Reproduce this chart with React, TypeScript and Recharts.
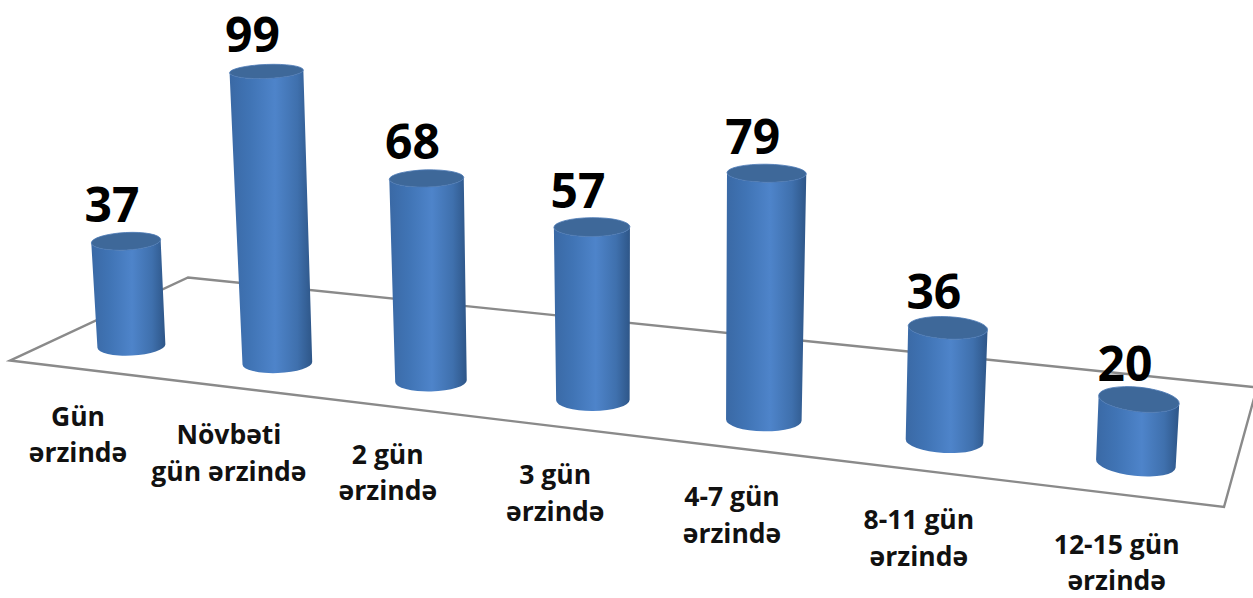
import React from "react";
import { BarChart, Bar, XAxis, YAxis, LabelList, Customized } from "recharts";

const categories = [
  ["Gün", "ərzində"],
  ["Növbəti", "gün ərzində"],
  ["2 gün", "ərzində"],
  ["3 gün", "ərzində"],
  ["4-7 gün", "ərzində"],
  ["8-11 gün", "ərzində"],
  ["12-15 gün", "ərzində"],
];
const values = [37, 99, 68, 57, 79, 36, 20];

const rows = categories.map((lines, i) => ({ name: lines.join(" "), value: values[i] }));

const WIDTH = 1253;
const HEIGHT = 598;
const MARGIN_TOP = 30;
const AXIS_HEIGHT = 148;
const BAND = WIDTH / categories.length;
const FONT = "'Open Sans', 'Noto Sans', sans-serif";

// Perspective used for the tilted floor: each line across the floor is a
// homography of the category position u (0 = first category).
const VANISH = 0.025;
const HEIGHT_VANISH = 0.02;
type Line = { ax: number; bx: number; ay: number; by: number };
const FRONT_EDGE: Line = { ax: 145, bx: 82.6, ay: 8.51, by: 369.3 };
const BACK_EDGE: Line = { ax: 123.2, bx: 252, ay: 6.2, by: 284.1 };
const BAR_ROW: Line = { ax: 139, bx: 131, ay: 8, by: 346 };
const TICK_ROW: Line = { ax: 145.2, bx: 78, ay: 7.72, by: 417 };

const onLine = (l: Line, u: number) => {
  const w = 1 - VANISH * u;
  return { x: (l.ax * u + l.bx) / w, y: (l.ay * u + l.by) / w };
};
const bandPosition = (cx: number) => cx / BAND - 0.5;

// Screen geometry of one cylinder, from the bar rectangle that the scales give.
const cylinder = (x: number, width: number, height: number) => {
  const u = bandPosition(x + width / 2);
  const base = onLine(BAR_ROW, u);
  const raw = height / (1 - HEIGHT_VANISH * u);
  // Taller bars rise towards the camera, so their height grows a little faster.
  const h = raw * (1 + 0.00011 * raw);
  const bottomRx = width / 2 / (1 - VANISH * u);
  const topRx = bottomRx * (1 + 0.0002 * h);
  const lean = (base.x - 650) * 0.0001 * h;
  const top = { x: base.x + lean, y: base.y - h };
  const angle = ((-3 + 0.75 * u + 0.0035 * u ** 4) * Math.PI) / 180;
  return {
    base,
    top,
    bottomRx,
    topRx,
    angle,
    topRy: 10 + 0.5 * u - 0.012 * h,
    bottomRy: 9.5 + 0.45 * u,
  };
};

const CylinderShape = (props: any) => {
  const { x, width, height } = props;
  const c = cylinder(x, width, height);
  const deg = (c.angle * 180) / Math.PI;
  const cos = Math.cos(c.angle);
  const sin = Math.sin(c.angle);
  const tl = { x: c.top.x - c.topRx * cos, y: c.top.y - c.topRx * sin };
  const tr = { x: c.top.x + c.topRx * cos, y: c.top.y + c.topRx * sin };
  const bl = { x: c.base.x - c.bottomRx * cos, y: c.base.y - c.bottomRx * sin };
  const br = { x: c.base.x + c.bottomRx * cos, y: c.base.y + c.bottomRx * sin };
  const body =
    `M${tl.x} ${tl.y} L${bl.x} ${bl.y} ` +
    `A${c.bottomRx} ${c.bottomRy} ${deg} 0 0 ${br.x} ${br.y} ` +
    `L${tr.x} ${tr.y} A${c.topRx} ${c.topRy} ${deg} 0 1 ${tl.x} ${tl.y} Z`;
  return (
    <g>
      <path d={body} fill="url(#cylinderSide)" />
      <ellipse
        cx={c.top.x}
        cy={c.top.y}
        rx={c.topRx}
        ry={c.topRy}
        fill="#3e6899"
        stroke="#4a78b4"
        strokeWidth={0.8}
        transform={`rotate(${deg} ${c.top.x} ${c.top.y})`}
      />
    </g>
  );
};

const ValueLabel = (props: any) => {
  const box = props.viewBox ?? props;
  const c = cylinder(box.x, box.width, Math.abs(box.height));
  return (
    <text
      x={c.top.x - 14}
      y={c.top.y - 19}
      textAnchor="middle"
      fontFamily={FONT}
      fontWeight={700}
      fontSize={48}
      fill="#000"
    >
      {props.value}
    </text>
  );
};

const CategoryTick = (props: any) => {
  const { x, payload } = props;
  const at = onLine(TICK_ROW, bandPosition(x));
  const lines = categories[payload.index] ?? [];
  return (
    <text textAnchor="middle" fontFamily={FONT} fontWeight={700} fontSize={26.5} fill="#111">
      {lines.map((line, i) => (
        <tspan key={line} x={at.x} y={at.y + 8.5 + i * 36.5}>
          {line}
        </tspan>
      ))}
    </text>
  );
};

const Floor = () => {
  const uMin = -0.5;
  const uMax = categories.length - 0.5;
  const corners = [
    onLine(FRONT_EDGE, uMin),
    onLine(BACK_EDGE, uMin),
    onLine(BACK_EDGE, uMax),
    onLine(FRONT_EDGE, uMax),
  ];
  return (
    <polygon
      points={corners.map((p) => `${p.x},${p.y}`).join(" ")}
      fill="none"
      stroke="#8a8a8a"
      strokeWidth={2.4}
      strokeLinejoin="miter"
    />
  );
};

export default function App() {
  return (
    <div style={{ position: "absolute", left: 0, top: 0, width: WIDTH, height: HEIGHT, background: "#fff" }}>
      <BarChart
        width={WIDTH}
        height={HEIGHT}
        data={rows}
        margin={{ top: MARGIN_TOP, right: 0, bottom: 0, left: 0 }}
      >
        <defs>
          <linearGradient id="cylinderSide" x1="0" y1="0" x2="1" y2="0">
            <stop offset="0" stopColor="#3a69a5" />
            <stop offset="0.25" stopColor="#4074b5" />
            <stop offset="0.55" stopColor="#4e84ca" />
            <stop offset="0.82" stopColor="#3f70ad" />
            <stop offset="1" stopColor="#2e5688" />
          </linearGradient>
        </defs>
        <Customized component={Floor} />
        <XAxis
          dataKey="name"
          height={AXIS_HEIGHT}
          interval={0}
          axisLine={false}
          tickLine={false}
          tick={<CategoryTick />}
        />
        <YAxis hide domain={[0, 150]} />
        <Bar dataKey="value" barSize={68} isAnimationActive={false} shape={<CylinderShape />}>
          <LabelList dataKey="value" content={<ValueLabel />} />
        </Bar>
      </BarChart>
    </div>
  );
}
